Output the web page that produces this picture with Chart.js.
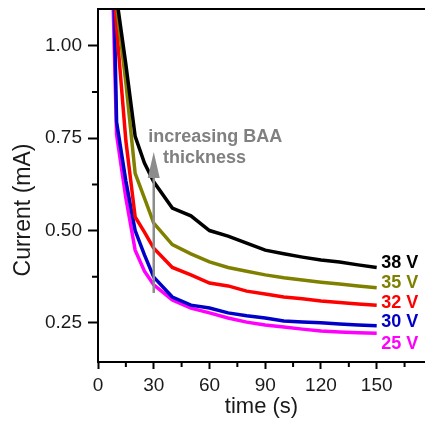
<!DOCTYPE html>
<html>
<head>
<meta charset="utf-8">
<script src="https://cdn.jsdelivr.net/npm/chart.js@4"></script>
<style>
  html, body { margin: 0; padding: 0; background: #fff; overflow: hidden; }
</style>
</head>
<body>
<canvas id="grafico" width="425" height="421"></canvas>
<script>
// tempo (s) e corrente (mA) de cada tensao
var tempo = [5, 10, 15, 20, 25, 30, 40, 50, 60, 70, 80, 90, 100, 110, 120, 130, 140, 150];
var corrente38 = [1.60, 1.13, 0.95, 0.755, 0.683, 0.632, 0.561, 0.54, 0.50, 0.485, 0.466, 0.447, 0.437, 0.428, 0.42, 0.415, 0.407, 0.40];
var corrente35 = [1.60, 1.11, 0.90, 0.655, 0.588, 0.52, 0.462, 0.437, 0.415, 0.40, 0.39, 0.38, 0.372, 0.366, 0.36, 0.355, 0.35, 0.345];
var corrente32 = [1.43, 1.05, 0.743, 0.537, 0.496, 0.452, 0.40, 0.38, 0.358, 0.35, 0.336, 0.328, 0.32, 0.315, 0.309, 0.305, 0.301, 0.298];
var corrente30 = [2.02, 0.794, 0.634, 0.50, 0.434, 0.374, 0.32, 0.298, 0.29, 0.277, 0.269, 0.263, 0.255, 0.252, 0.25, 0.247, 0.244, 0.242];
var corrente25 = [1.71, 0.76, 0.588, 0.447, 0.39, 0.353, 0.312, 0.29, 0.277, 0.263, 0.252, 0.244, 0.239, 0.233, 0.228, 0.225, 0.223, 0.222];

var rotulos = ['38 V', '35 V', '32 V', '30 V', '25 V'];
var cores = ['#000000', '#808000', '#ff0000', '#0000c8', '#ff00ff'];
var rotuloY = [0.412, 0.358, 0.304, 0.252, 0.193];
var rotuloX = 152.5;

var ticksX = [0, 15, 30, 45, 60, 75, 90, 105, 120, 135, 150, 165];
var ticksY = [0.25, 0.375, 0.5, 0.625, 0.75, 0.875, 1.0];

// seta "increasing BAA thickness"
var setaX = 30, setaBase = 0.331, setaPonta = 0.713, setaCabeca = 0.642;

var fonte = "'Liberation Sans', Arial, Helvetica, sans-serif";
Chart.defaults.font.family = fonte;

function pontos(valores) {
  var out = [];
  for (var i = 0; i < tempo.length; i++) {
    out.push({ x: tempo[i], y: valores[i] });
  }
  return out;
}

function eMaiorX(v) { return v % 30 === 0; }
function eMaiorY(v) { return Math.abs(v * 4 - Math.round(v * 4)) < 1e-6; }

var anotacoes = {
  id: 'anotacoes',
  afterDraw: function (chart) {
    var ctx = chart.ctx;
    var sx = chart.scales.x, sy = chart.scales.y;
    var area = chart.chartArea;
    ctx.save();

    // linha superior da moldura
    ctx.strokeStyle = '#000';
    ctx.lineWidth = 2;
    ctx.beginPath();
    ctx.moveTo(area.left - 1, area.top);
    ctx.lineTo(area.right, area.top);
    ctx.stroke();

    // ticks menores
    ctx.beginPath();
    ticksX.forEach(function (v) {
      if (!eMaiorX(v)) {
        var px = sx.getPixelForValue(v);
        ctx.moveTo(px, area.bottom);
        ctx.lineTo(px, area.bottom + 5);
      }
    });
    ticksY.forEach(function (v) {
      if (!eMaiorY(v)) {
        var py = sy.getPixelForValue(v);
        ctx.moveTo(area.left, py);
        ctx.lineTo(area.left - 6, py);
      }
    });
    ctx.stroke();

    // seta
    var ax = sx.getPixelForValue(setaX);
    var yb = sy.getPixelForValue(setaBase);
    var yc = sy.getPixelForValue(setaCabeca);
    var yp = sy.getPixelForValue(setaPonta);
    ctx.strokeStyle = '#8c8c8c';
    ctx.fillStyle = '#8c8c8c';
    ctx.lineWidth = 2.5;
    ctx.beginPath();
    ctx.moveTo(ax, yb);
    ctx.lineTo(ax, yc);
    ctx.stroke();
    ctx.beginPath();
    ctx.moveTo(ax, yp);
    ctx.lineTo(ax - 6, yc);
    ctx.lineTo(ax + 6, yc);
    ctx.closePath();
    ctx.fill();

    ctx.font = 'bold 18px ' + fonte;
    ctx.textBaseline = 'middle';
    ctx.textAlign = 'left';
    ctx.fillStyle = '#808080';
    ctx.fillText('increasing BAA', sx.getPixelForValue(27), sy.getPixelForValue(0.754));
    ctx.fillText('thickness', sx.getPixelForValue(35), sy.getPixelForValue(0.697));

    // rotulos das curvas
    for (var i = 0; i < rotulos.length; i++) {
      ctx.fillStyle = cores[i];
      ctx.fillText(rotulos[i], sx.getPixelForValue(rotuloX), sy.getPixelForValue(rotuloY[i]));
    }

    // titulo do eixo y
    ctx.translate(24, 210);
    ctx.rotate(-Math.PI / 2);
    ctx.textAlign = 'center';
    ctx.fillStyle = '#1a1a1a';
    ctx.font = '23px ' + fonte;
    ctx.fillText('Current (mA)', 0, 0);
    ctx.restore();
  }
};

var ctx = document.getElementById('grafico').getContext('2d');
var chart = new Chart(ctx, {
  type: 'line',
  data: {
    datasets: [
      { label: rotulos[0], data: pontos(corrente38), borderColor: cores[0] },
      { label: rotulos[1], data: pontos(corrente35), borderColor: cores[1] },
      { label: rotulos[2], data: pontos(corrente32), borderColor: cores[2] },
      { label: rotulos[3], data: pontos(corrente30), borderColor: cores[3] },
      { label: rotulos[4], data: pontos(corrente25), borderColor: cores[4] }
    ]
  },
  options: {
    responsive: false,
    animation: false,
    devicePixelRatio: 1,
    layout: { padding: { top: 9, left: 0, right: 0, bottom: 0 } },
    elements: {
      line: { borderWidth: 3.5, tension: 0, fill: false },
      point: { radius: 0 }
    },
    plugins: {
      legend: { display: false },
      tooltip: { enabled: false }
    },
    scales: {
      x: {
        type: 'linear',
        min: 0,
        max: 176,
        border: { color: '#000', width: 2 },
        grid: {
          drawOnChartArea: false,
          tickLength: 7,
          tickWidth: 2,
          tickColor: function (c) {
            return c.tick && eMaiorX(c.tick.value) ? '#000' : 'rgba(0,0,0,0)';
          }
        },
        afterBuildTicks: function (axis) {
          axis.ticks = ticksX.map(function (v) { return { value: v }; });
        },
        ticks: {
          autoSkip: false,
          maxRotation: 0,
          padding: 5,
          color: '#1a1a1a',
          font: { size: 19 },
          callback: function (v) { return eMaiorX(v) ? String(v) : ''; }
        },
        title: {
          display: true,
          text: 'time (s)',
          color: '#1a1a1a',
          font: { size: 22 },
          padding: { top: 0, bottom: 1 }
        },
        afterFit: function (scale) {
          scale.height = 59;
          scale.paddingLeft = 0;
          scale.paddingRight = 0;
        }
      },
      y: {
        min: 0.144,
        max: 1.10,
        border: { color: '#000', width: 2 },
        grid: {
          drawOnChartArea: false,
          tickLength: 10,
          tickWidth: 2,
          tickColor: function (c) {
            return c.tick && eMaiorY(c.tick.value) ? '#000' : 'rgba(0,0,0,0)';
          }
        },
        afterBuildTicks: function (axis) {
          axis.ticks = ticksY.map(function (v) { return { value: v }; });
        },
        ticks: {
          autoSkip: false,
          padding: 6,
          color: '#1a1a1a',
          font: { size: 19 },
          callback: function (v) { return eMaiorY(v) ? v.toFixed(2) : ''; }
        },
        afterFit: function (scale) {
          scale.width = 98;
          scale.paddingTop = 0;
          scale.paddingBottom = 0;
        }
      }
    }
  },
  plugins: [anotacoes]
});
</script>
</body>
</html>
